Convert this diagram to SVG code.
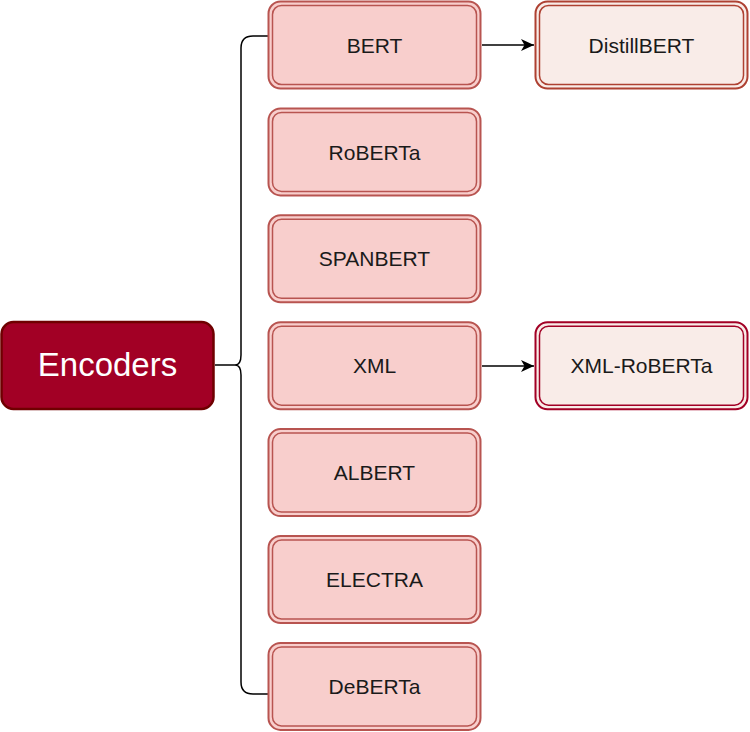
<svg xmlns="http://www.w3.org/2000/svg" width="750" height="732" viewBox="0 0 750 732">
<defs>
<style>
.mid-o{fill:#f8cecc;stroke:#b85450;stroke-width:2}
.mid-i{fill:none;stroke:#b85450;stroke-width:1.5}
.lbl{font-family:"Liberation Sans",Arial,sans-serif;font-size:21px;fill:#1a1a1a;text-anchor:middle;dominant-baseline:central}
.conn{fill:none;stroke:#000;stroke-width:1.5}
</style>
<marker id="arr" markerWidth="14" markerHeight="12" refX="13" refY="6" orient="auto" markerUnits="userSpaceOnUse">
<path d="M0,0 L13,6 L0,12 L3.5,6 Z" fill="#000"/>
</marker>
</defs>
<rect width="750" height="732" fill="#fff"/>
<g id="connectors">
<path class="conn" d="M268,36 H253 Q241,36 241,48 V355 Q241,365 235,365 Q241,365 241,375 V682 Q241,694 253,694 H268"/>
<path class="conn" d="M215,365 H235"/>
<path class="conn" d="M482,45 H534" marker-end="url(#arr)"/>
<path class="conn" d="M482,366 H534" marker-end="url(#arr)"/>
</g>
<g id="encoders">
<rect x="1.5" y="322" width="212" height="87" rx="12" fill="#a20025" stroke="#6f0000" stroke-width="2.5"/>
<text x="107.5" y="364" style="font-family:'Liberation Sans',Arial,sans-serif;font-size:33px;fill:#fff;text-anchor:middle;dominant-baseline:central">Encoders</text>
</g>
<g id="bert">
<rect class="mid-o" x="268.5" y="1.5" width="212" height="87" rx="12"/>
<rect class="mid-i" x="272.5" y="5.5" width="204" height="79" rx="9"/>
<text class="lbl" x="374.5" y="45">BERT</text>
</g>
<g id="roberta">
<rect class="mid-o" x="268.5" y="108.4" width="212" height="87" rx="12"/>
<rect class="mid-i" x="272.5" y="112.4" width="204" height="79" rx="9"/>
<text class="lbl" x="374.5" y="152">RoBERTa</text>
</g>
<g id="spanbert">
<rect class="mid-o" x="268.5" y="215.3" width="212" height="87" rx="12"/>
<rect class="mid-i" x="272.5" y="219.3" width="204" height="79" rx="9"/>
<text class="lbl" x="374.5" y="258.8">SPANBERT</text>
</g>
<g id="xml">
<rect class="mid-o" x="268.5" y="322.2" width="212" height="87" rx="12"/>
<rect class="mid-i" x="272.5" y="326.2" width="204" height="79" rx="9"/>
<text class="lbl" x="374.5" y="365.7">XML</text>
</g>
<g id="albert">
<rect class="mid-o" x="268.5" y="429.1" width="212" height="87" rx="12"/>
<rect class="mid-i" x="272.5" y="433.1" width="204" height="79" rx="9"/>
<text class="lbl" x="374.5" y="472.6">ALBERT</text>
</g>
<g id="electra">
<rect class="mid-o" x="268.5" y="536" width="212" height="87" rx="12"/>
<rect class="mid-i" x="272.5" y="540" width="204" height="79" rx="9"/>
<text class="lbl" x="374.5" y="579.5">ELECTRA</text>
</g>
<g id="deberta">
<rect class="mid-o" x="268.5" y="642.9" width="212" height="87" rx="12"/>
<rect class="mid-i" x="272.5" y="646.9" width="204" height="79" rx="9"/>
<text class="lbl" x="374.5" y="686.4">DeBERTa</text>
</g>
<g id="distilbert">
<rect x="535.5" y="1.5" width="212" height="87" rx="12" fill="#f9ece8" stroke="#ae4132" stroke-width="2"/>
<rect x="539.5" y="5.5" width="204" height="79" rx="9" fill="none" stroke="#ae4132" stroke-width="1.5"/>
<text class="lbl" x="641.5" y="45">DistillBERT</text>
</g>
<g id="xml-roberta">
<rect x="535.5" y="322.2" width="212" height="87" rx="12" fill="#f9ece8" stroke="#a20025" stroke-width="2"/>
<rect x="539.5" y="326.2" width="204" height="79" rx="9" fill="none" stroke="#a20025" stroke-width="1.5"/>
<text class="lbl" x="641.5" y="365.7">XML-RoBERTa</text>
</g>
</svg>
